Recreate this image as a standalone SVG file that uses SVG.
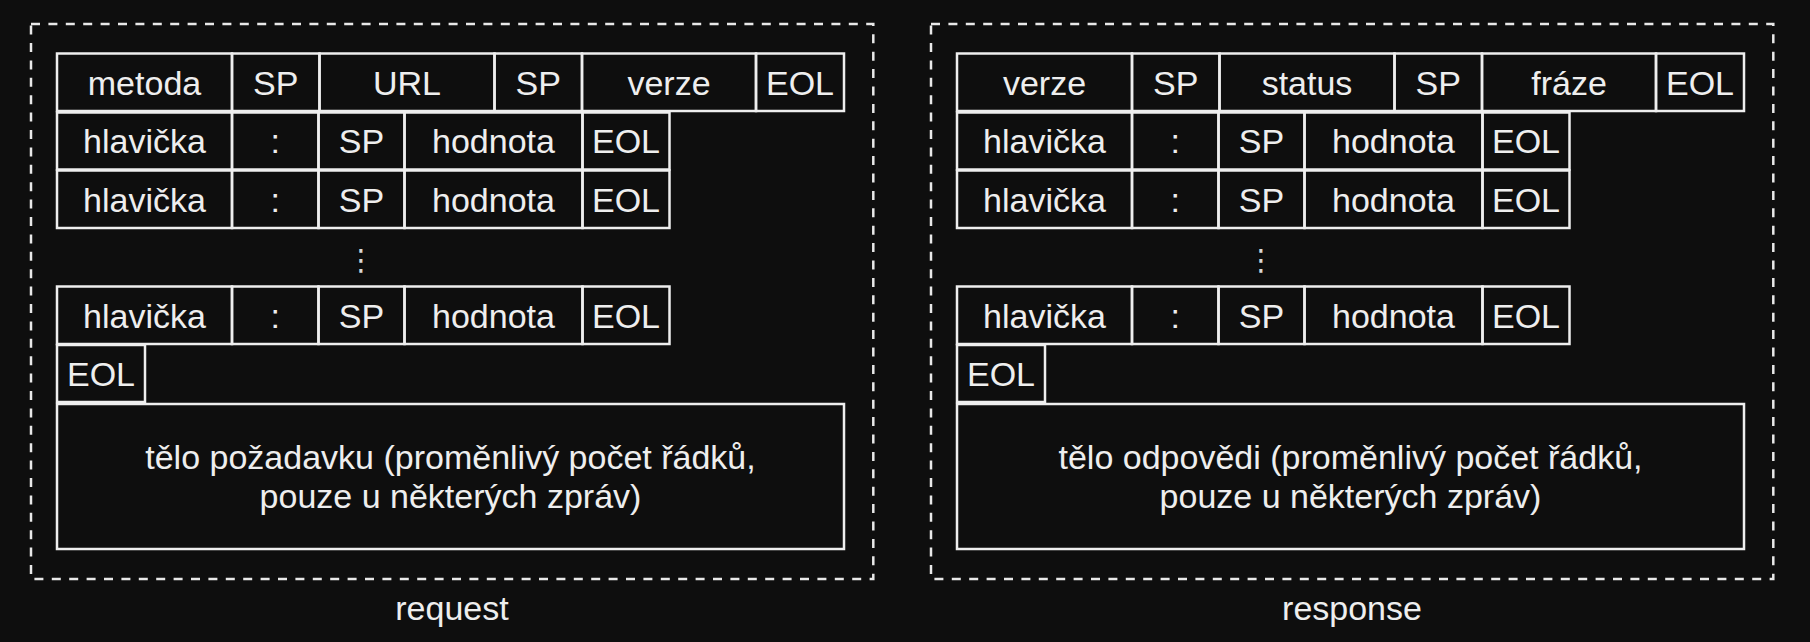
<svg xmlns="http://www.w3.org/2000/svg" width="1810" height="642" viewBox="0 0 1810 642">
  <style>
    .bg { fill: #0e0e0e; }
    .frame { fill: none; stroke: #e8e8e8; stroke-width: 2.5; stroke-dasharray: 9 8.4; }
    .cell { fill: none; stroke: #eeeeee; stroke-width: 2.5; }
    .t { font-family: "Liberation Sans", Arial, Helvetica, sans-serif; font-size: 34px; fill: #eeeeee; text-anchor: middle; }
    .dots { font-family: "DejaVu Sans", sans-serif; font-size: 29.5px; fill: #d8d8d8; text-anchor: middle; }
  </style>
  <rect class="bg" x="0" y="0" width="1810" height="642"/>

  <!-- request panel -->
  <g id="request">
    <rect class="frame" x="31" y="24" width="842.3" height="555"/>

    <!-- request line -->
    <g id="req-r1-metoda"><rect class="cell" x="57" y="53.5" width="175" height="57.5"/><text class="t" x="144.5" y="94.5">metoda</text></g>
    <g id="req-r1-sp1"><rect class="cell" x="232" y="53.5" width="87.5" height="57.5"/><text class="t" x="275.75" y="94.5">SP</text></g>
    <g id="req-r1-url"><rect class="cell" x="319.5" y="53.5" width="175" height="57.5"/><text class="t" x="407" y="94.5">URL</text></g>
    <g id="req-r1-sp2"><rect class="cell" x="494.5" y="53.5" width="87.5" height="57.5"/><text class="t" x="538.25" y="94.5">SP</text></g>
    <g id="req-r1-verze"><rect class="cell" x="582" y="53.5" width="174" height="57.5"/><text class="t" x="669" y="94.5">verze</text></g>
    <g id="req-r1-eol"><rect class="cell" x="756" y="53.5" width="88" height="57.5"/><text class="t" x="800" y="94.5">EOL</text></g>

    <!-- header line 1 -->
    <g id="req-h1-name"><rect class="cell" x="57" y="112.5" width="175" height="57"/><text class="t" x="144.5" y="153">hlavička</text></g>
    <g id="req-h1-colon"><rect class="cell" x="232" y="112.5" width="86.5" height="57"/><text class="t" x="275.25" y="153">:</text></g>
    <g id="req-h1-sp"><rect class="cell" x="318.5" y="112.5" width="86" height="57"/><text class="t" x="361.5" y="153">SP</text></g>
    <g id="req-h1-value"><rect class="cell" x="404.5" y="112.5" width="178" height="57"/><text class="t" x="493.5" y="153">hodnota</text></g>
    <g id="req-h1-eol"><rect class="cell" x="582.5" y="112.5" width="87" height="57"/><text class="t" x="626" y="153">EOL</text></g>

    <!-- header line 2 -->
    <g id="req-h2-name"><rect class="cell" x="57" y="170.5" width="175" height="57.5"/><text class="t" x="144.5" y="211.5">hlavička</text></g>
    <g id="req-h2-colon"><rect class="cell" x="232" y="170.5" width="86.5" height="57.5"/><text class="t" x="275.25" y="211.5">:</text></g>
    <g id="req-h2-sp"><rect class="cell" x="318.5" y="170.5" width="86" height="57.5"/><text class="t" x="361.5" y="211.5">SP</text></g>
    <g id="req-h2-value"><rect class="cell" x="404.5" y="170.5" width="178" height="57.5"/><text class="t" x="493.5" y="211.5">hodnota</text></g>
    <g id="req-h2-eol"><rect class="cell" x="582.5" y="170.5" width="87" height="57.5"/><text class="t" x="626" y="211.5">EOL</text></g>

    <g id="req-more"><text class="dots" x="361" y="269.5">⋮</text></g>

    <!-- last header line -->
    <g id="req-hn-name"><rect class="cell" x="57" y="286.5" width="175" height="57.5"/><text class="t" x="144.5" y="327.5">hlavička</text></g>
    <g id="req-hn-colon"><rect class="cell" x="232" y="286.5" width="86.5" height="57.5"/><text class="t" x="275.25" y="327.5">:</text></g>
    <g id="req-hn-sp"><rect class="cell" x="318.5" y="286.5" width="86" height="57.5"/><text class="t" x="361.5" y="327.5">SP</text></g>
    <g id="req-hn-value"><rect class="cell" x="404.5" y="286.5" width="178" height="57.5"/><text class="t" x="493.5" y="327.5">hodnota</text></g>
    <g id="req-hn-eol"><rect class="cell" x="582.5" y="286.5" width="87" height="57.5"/><text class="t" x="626" y="327.5">EOL</text></g>

    <!-- blank line -->
    <g id="req-blank-eol"><rect class="cell" x="57" y="345" width="88" height="57"/><text class="t" x="101" y="385.5">EOL</text></g>

    <!-- body -->
    <g id="req-body">
      <rect class="cell" x="57" y="404" width="787" height="145"/>
      <text class="t" x="450.5" y="469">tělo požadavku (proměnlivý počet řádků,</text>
      <text class="t" x="450.5" y="508">pouze u některých zpráv)</text>
    </g>

    <text class="t" x="452" y="620">request</text>
  </g>

  <!-- response panel -->
  <g id="response" transform="translate(900 0)">
    <rect class="frame" x="31" y="24" width="842.3" height="555"/>

    <!-- status line -->
    <g id="res-r1-verze"><rect class="cell" x="57" y="53.5" width="175" height="57.5"/><text class="t" x="144.5" y="94.5">verze</text></g>
    <g id="res-r1-sp1"><rect class="cell" x="232" y="53.5" width="87.5" height="57.5"/><text class="t" x="275.75" y="94.5">SP</text></g>
    <g id="res-r1-status"><rect class="cell" x="319.5" y="53.5" width="175" height="57.5"/><text class="t" x="407" y="94.5">status</text></g>
    <g id="res-r1-sp2"><rect class="cell" x="494.5" y="53.5" width="87.5" height="57.5"/><text class="t" x="538.25" y="94.5">SP</text></g>
    <g id="res-r1-fraze"><rect class="cell" x="582" y="53.5" width="174" height="57.5"/><text class="t" x="669" y="94.5">fráze</text></g>
    <g id="res-r1-eol"><rect class="cell" x="756" y="53.5" width="88" height="57.5"/><text class="t" x="800" y="94.5">EOL</text></g>

    <!-- header line 1 -->
    <g id="res-h1-name"><rect class="cell" x="57" y="112.5" width="175" height="57"/><text class="t" x="144.5" y="153">hlavička</text></g>
    <g id="res-h1-colon"><rect class="cell" x="232" y="112.5" width="86.5" height="57"/><text class="t" x="275.25" y="153">:</text></g>
    <g id="res-h1-sp"><rect class="cell" x="318.5" y="112.5" width="86" height="57"/><text class="t" x="361.5" y="153">SP</text></g>
    <g id="res-h1-value"><rect class="cell" x="404.5" y="112.5" width="178" height="57"/><text class="t" x="493.5" y="153">hodnota</text></g>
    <g id="res-h1-eol"><rect class="cell" x="582.5" y="112.5" width="87" height="57"/><text class="t" x="626" y="153">EOL</text></g>

    <!-- header line 2 -->
    <g id="res-h2-name"><rect class="cell" x="57" y="170.5" width="175" height="57.5"/><text class="t" x="144.5" y="211.5">hlavička</text></g>
    <g id="res-h2-colon"><rect class="cell" x="232" y="170.5" width="86.5" height="57.5"/><text class="t" x="275.25" y="211.5">:</text></g>
    <g id="res-h2-sp"><rect class="cell" x="318.5" y="170.5" width="86" height="57.5"/><text class="t" x="361.5" y="211.5">SP</text></g>
    <g id="res-h2-value"><rect class="cell" x="404.5" y="170.5" width="178" height="57.5"/><text class="t" x="493.5" y="211.5">hodnota</text></g>
    <g id="res-h2-eol"><rect class="cell" x="582.5" y="170.5" width="87" height="57.5"/><text class="t" x="626" y="211.5">EOL</text></g>

    <g id="res-more"><text class="dots" x="361" y="269.5">⋮</text></g>

    <!-- last header line -->
    <g id="res-hn-name"><rect class="cell" x="57" y="286.5" width="175" height="57.5"/><text class="t" x="144.5" y="327.5">hlavička</text></g>
    <g id="res-hn-colon"><rect class="cell" x="232" y="286.5" width="86.5" height="57.5"/><text class="t" x="275.25" y="327.5">:</text></g>
    <g id="res-hn-sp"><rect class="cell" x="318.5" y="286.5" width="86" height="57.5"/><text class="t" x="361.5" y="327.5">SP</text></g>
    <g id="res-hn-value"><rect class="cell" x="404.5" y="286.5" width="178" height="57.5"/><text class="t" x="493.5" y="327.5">hodnota</text></g>
    <g id="res-hn-eol"><rect class="cell" x="582.5" y="286.5" width="87" height="57.5"/><text class="t" x="626" y="327.5">EOL</text></g>

    <!-- blank line -->
    <g id="res-blank-eol"><rect class="cell" x="57" y="345" width="88" height="57"/><text class="t" x="101" y="385.5">EOL</text></g>

    <!-- body -->
    <g id="res-body">
      <rect class="cell" x="57" y="404" width="787" height="145"/>
      <text class="t" x="450.5" y="469">tělo odpovědi (proměnlivý počet řádků,</text>
      <text class="t" x="450.5" y="508">pouze u některých zpráv)</text>
    </g>

    <text class="t" x="452" y="620">response</text>
  </g>
</svg>
